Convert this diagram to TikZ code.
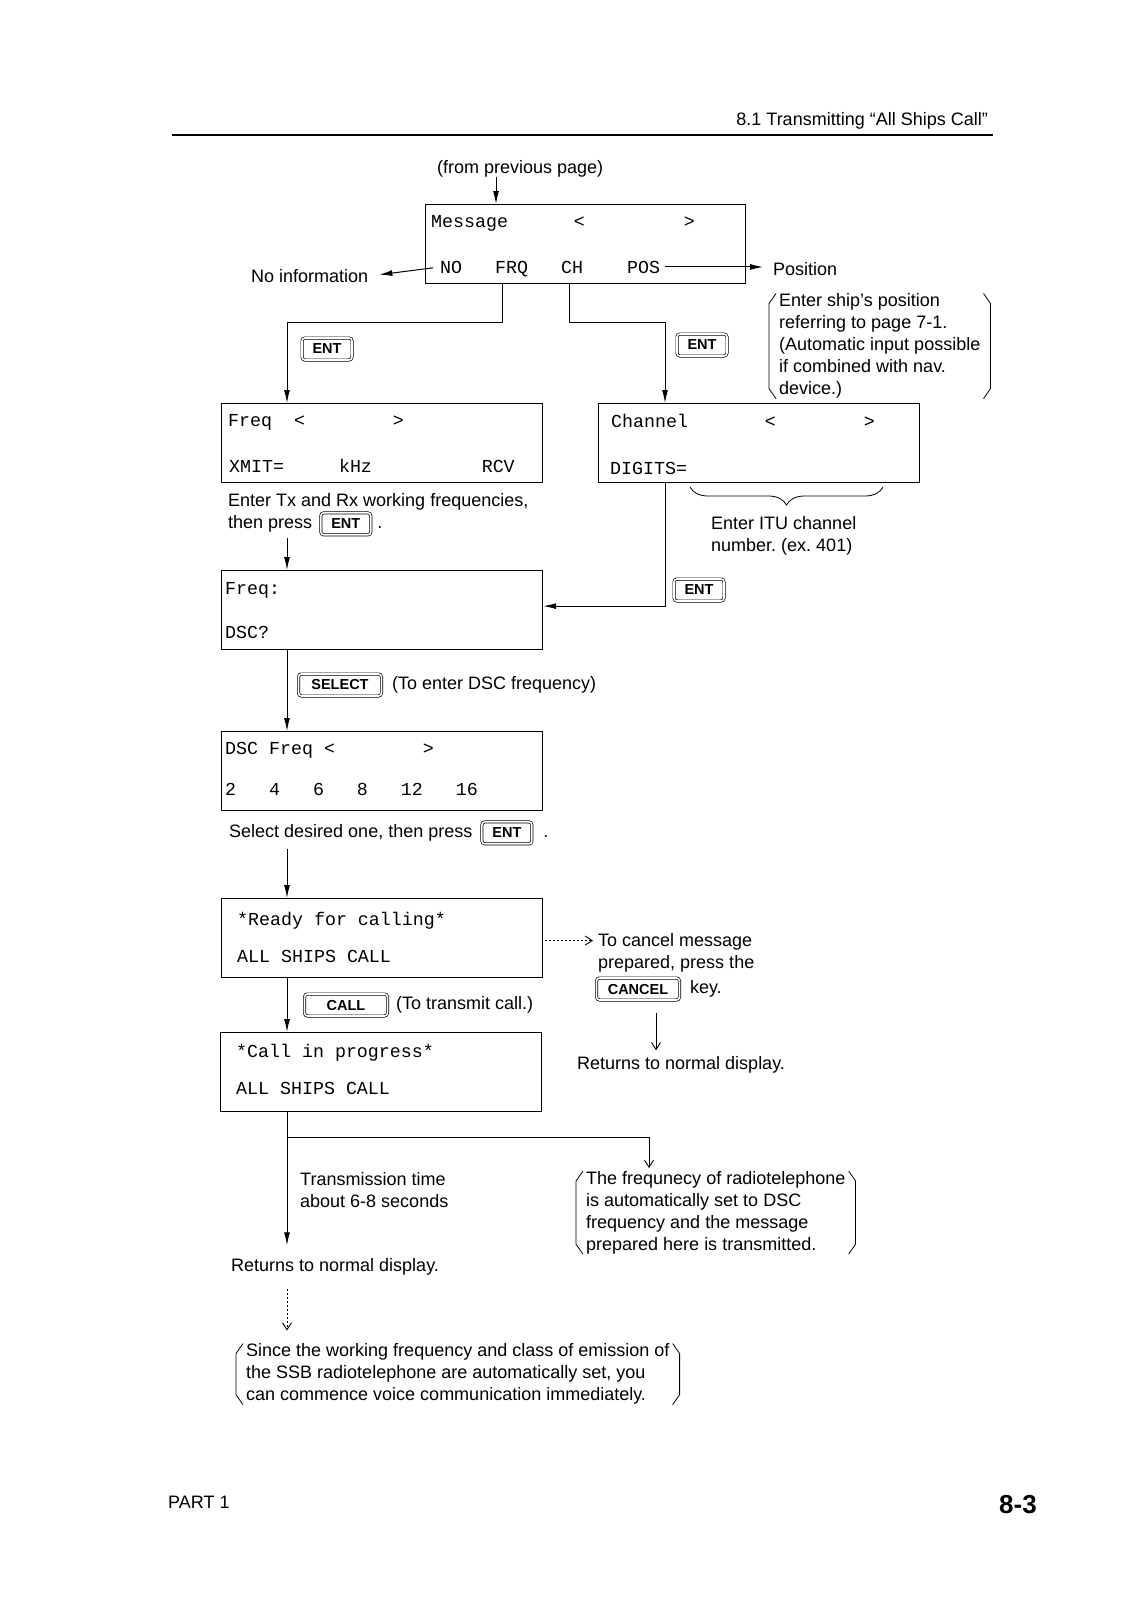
\documentclass[tikz,border=0pt]{standalone}
\usepackage{fontspec}
\setmainfont{Liberation Sans}
\setmonofont{Liberation Mono}
\usetikzlibrary{positioning}
\usetikzlibrary{arrows.meta}
\usetikzlibrary{decorations.pathreplacing}
\frenchspacing

\newcommand{\lcdfont}{\ttfamily\fontsize{18.3}{22}\selectfont}
\newcommand{\notefont}{\fontsize{18}{22}\selectfont}
\newcommand{\keyfont}{\fontsize{14.5}{16}\selectfont\bfseries}

% parenthèses autour d'une note
\newcommand{\bracketnote}[1]{%
  \draw[line width=0.8pt] ([xshift=-3pt]#1.north west) -- ([xshift=-10pt,yshift=-10pt]#1.north west)
    -- ([xshift=-10pt,yshift=10pt]#1.south west) -- ([xshift=-3pt]#1.south west);
  \draw[line width=0.8pt] ([xshift=3pt]#1.north east) -- ([xshift=10pt,yshift=-10pt]#1.north east)
    -- ([xshift=10pt,yshift=10pt]#1.south east) -- ([xshift=3pt]#1.south east);}

\tikzset{
  lcd/.style={draw, line width=1.2pt, anchor=north west, minimum width=321pt, minimum height=79pt, inner sep=0pt},
  lcdtext/.style={anchor=base west, inner sep=0pt, font=\lcdfont},
  note/.style={anchor=base west, inner sep=0pt, font=\notefont},
  block/.style={anchor=north west, inner sep=0pt, font=\notefont, align=left},
  keycap/.style={draw, double, double distance=1.6pt, line width=0.7pt, rounded corners=3pt,
    minimum width=50pt, minimum height=22pt, inner sep=0pt, font=\keyfont},
  widekey/.style={keycap, minimum width=83pt},
  arr/.style={line width=1pt, -{Latex[length=13pt,width=6pt]}},
  barb/.style={line width=0.9pt, -{Straight Barb[length=7pt,width=9pt]}},
  dots/.style={dash pattern=on 1.5pt off 2.5pt},
}

\begin{document}
\begin{tikzpicture}[x=1pt, y=-1pt]
  \useasboundingbox (0,0) rectangle (1131,1600);

  % en-tete et pied de page
  \node[note, anchor=base east] (head) at (988,126) {8.1 Transmitting ``All Ships Call''};
  \draw[line width=1.3pt] (172,135) -- (993,135);
  \node[note] (part) at (168,1508.5) {PART 1};
  \node[anchor=base east, inner sep=0pt, font=\fontsize{26}{30}\selectfont\bfseries] (pageno) at (1037,1513) {8-3};

  % colonnes et niveaux des fleches
  \coordinate (inx) at (496,0);
  \coordinate (frqx) at (502,0);
  \coordinate (chx) at (569,0);
  \coordinate (chanx) at (665,0);
  \coordinate (trunk) at (287,0);
  \coordinate (canx) at (656,0);
  \coordinate (autox) at (649,0);
  \coordinate (split1) at (0,322);
  \coordinate (split2) at (0,1137);

  % Message
  \node[note] (from) at (437,173) {(from previous page)};
  \node[lcd, minimum width=320pt] (msg) at (425,204) {};
  \node[lcdtext] (msg-1) at (431,227) {Message~~~~~~<~~~~~~~~~>};
  \node[lcdtext] (msgNO) at (440,273) {NO};
  \node[lcdtext] (msgFRQ) at (495,273) {FRQ};
  \node[lcdtext] (msgCH) at (561,273) {CH};
  \node[lcdtext] (msgPOS) at (627,273) {POS};
  \node[note] (noinfo) at (251,282.5) {No information};
  \node[note] (pos) at (773,275.5) {Position};
  \node[block] (posnote) at (779,293.5) {Enter ship's position\\referring to page 7-1.\\(Automatic input possible\\if combined with nav.\\device.)};
  \bracketnote{posnote}

  % Freq / Channel
  \node[lcd] (freq) at (221,403) {};
  \node[lcdtext] (freq-1) at (228,426) {Freq~~<~~~~~~~~>};
  \node[lcdtext] (freq-2) at (229,472) {XMIT=~~~~~kHz~~~~~~~~~~RCV};
  \node[lcd] (chan) at (598,403) {};
  \node[lcdtext] (chan-1) at (611,427) {Channel~~~~~~~<~~~~~~~~>};
  \node[lcdtext] (chan-2) at (610,474) {DIGITS=};
  \node[keycap] (entfrq) at (327,349) {ENT};
  \node[keycap] (entch) at (702,345) {ENT};

  \draw[decorate, decoration={brace, mirror, amplitude=18pt}, line width=0.8pt] (690,487) -- (883,487);
  \node[block] (chnote) at (711,516.5) {Enter ITU channel\\number. (ex. 401)};

  \node[note] (fnote) at (228,506.5) {Enter Tx and Rx working frequencies,};
  \node[note] (press1) at (228,528.5) {then press};
  \node[keycap, right=8pt of press1] (entnote) {ENT};
  \node[note] (dot1) at ([xshift=6pt]entnote.east |- press1.base) {.};

  % Freq: / DSC Freq
  \node[lcd] (freqq) at (221,570) {};
  \node[lcdtext] (freqq-1) at (225,594) {Freq:};
  \node[lcdtext] (freqq-2) at (225,638) {DSC?};
  \node[keycap] (entdig) at (699,590) {ENT};

  \node[widekey] (selkey) at (340,685) {SELECT};
  \node[note, right=10pt of selkey] (seltext) {(To enter DSC frequency)};

  \node[lcd] (dsc) at (221,731) {};
  \node[lcdtext] (dsc-1) at (225,754) {DSC~Freq~<~~~~~~~~>};
  \node[lcdtext] (dsc-2) at (225,795) {2~~~4~~~6~~~8~~~12~~~16};
  \node[note] (selnote) at (229,837.5) {Select desired one, then press};
  \node[keycap, right=9pt of selnote] (entsel) {ENT};
  \node[note] (dot2) at ([xshift=11pt]entsel.east |- selnote.base) {.};

  % Ready / Call
  \node[lcd] (ready) at (221,898) {};
  \node[lcdtext] (ready-1) at (237,925) {*Ready~for~calling*};
  \node[lcdtext] (ready-2) at (237,962) {ALL~SHIPS~CALL};
  \node[block] (cannote) at (598,933.5) {To cancel message\\prepared, press the};
  \node[widekey] (cankey) at (638,989) {CANCEL};
  \node[note, right=10pt of cankey] (keyword) {key.};
  \node[note] (ret1) at (577,1069.5) {Returns to normal display.};

  \node[widekey] (callkey) at (346,1005) {CALL};
  \node[note, right=8pt of callkey] (calltext) {(To transmit call.)};

  \node[lcd] (call) at (220,1032) {};
  \node[lcdtext] (call-1) at (236,1057) {*Call~in~progress*};
  \node[lcdtext] (call-2) at (236,1094) {ALL~SHIPS~CALL};

  \node[block] (txtime) at (300,1172.5) {Transmission time\\about 6-8 seconds};
  \node[note] (ret2) at (231,1271.5) {Returns to normal display.};
  \node[block] (autonote) at (586,1171) {The frequnecy of radiotelephone\\is automatically set to DSC\\frequency and the message\\prepared here is transmitted.};
  \bracketnote{autonote}
  \node[block] (final) at (246,1343.5) {Since the working frequency and class of emission of\\the SSB radiotelephone are automatically set, you\\can commence voice communication immediately.};
  \bracketnote{final}

  % Flèches
  \draw[arr] (from.south -| inx) -- (inx |- msg.north);
  \draw[arr, shorten <=7pt, shorten >=11pt] (msgNO.west) -- (noinfo.east);
  \draw[arr, shorten <=5pt, shorten >=10pt] (msgPOS.east) -- (msgPOS.east -| pos.west);
  \draw[arr] (frqx |- msg.south) |- (trunk |- split1) -- (trunk |- freq.north);
  \draw[arr] (chx |- msg.south) |- (chanx |- split1) -- (chanx |- chan.north);
  \draw[arr, shorten <=6pt] (trunk |- press1.south) -- (trunk |- freqq.north);
  \draw[arr] (chanx |- chan.south) |- ([yshift=4pt]freqq.east);
  \draw[arr] (trunk |- freqq.south) -- (trunk |- dsc.north);
  \draw[arr, shorten <=8pt] (trunk |- selnote.south) -- (trunk |- ready.north);
  \draw[barb, dots, shorten <=2pt, shorten >=5pt] ([yshift=-2.5pt]ready.east) -- ([yshift=-2.5pt]ready.east -| cannote.west);
  \draw[barb, shorten <=13pt, shorten >=6pt] (canx |- cankey.south) -- (canx |- ret1.north);
  \draw[arr] (trunk |- ready.south) -- (trunk |- call.north);
  \draw[arr, shorten >=13pt] (trunk |- call.south) -- (trunk |- ret2.north);
  \draw[barb, shorten >=3pt] (trunk |- split2) -| (autox |- autonote.north);
  \draw[barb, dots, shorten <=14pt, shorten >=13pt] (trunk |- ret2.south) -- (trunk |- final.north);
\end{tikzpicture}
\end{document}
